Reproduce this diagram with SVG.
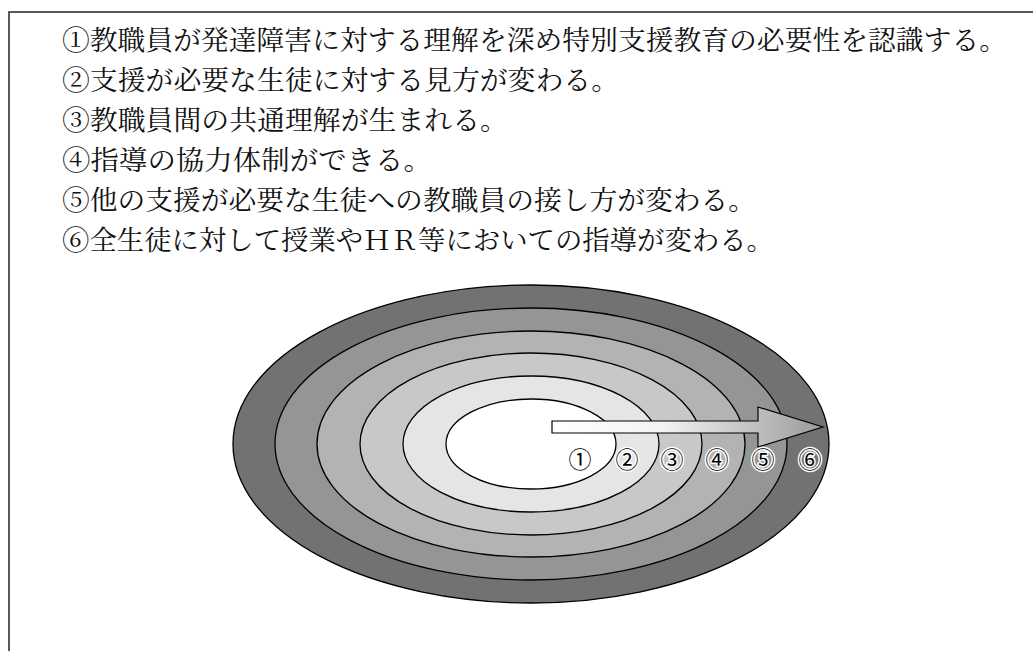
<svg xmlns="http://www.w3.org/2000/svg" width="1033" height="651" viewBox="0 0 1033 651">
<defs>
<style>
.t{font-family:"Noto Serif CJK JP","Noto Sans CJK JP",serif;font-size:27px;fill:#111}
.ring{stroke:#000;stroke-width:1.3}
.num{font-family:"Noto Sans CJK JP",sans-serif;font-size:23px;fill:#000;stroke:#fff;stroke-width:3;paint-order:stroke;stroke-linejoin:round;text-anchor:middle}
</style>
<linearGradient id="ag" x1="552" y1="0" x2="823" y2="0" gradientUnits="userSpaceOnUse">
<stop offset="0" stop-color="#ffffff"/>
<stop offset="0.4" stop-color="#f4f4f4"/>
<stop offset="1" stop-color="#9a9a9a"/>
</linearGradient>
</defs>
<rect x="0" y="0" width="1033" height="651" fill="#fff"/>
<rect x="9" y="12" width="1100" height="700" fill="none" stroke="#222" stroke-width="1.5"/>
<g id="text">
<text class="t" x="62" y="50" textLength="945" lengthAdjust="spacingAndGlyphs">①教職員が発達障害に対する理解を深め特別支援教育の必要性を認識する。</text>
<text class="t" x="62" y="90" textLength="557" lengthAdjust="spacingAndGlyphs">②支援が必要な生徒に対する見方が変わる。</text>
<text class="t" x="62" y="130" textLength="446" lengthAdjust="spacingAndGlyphs">③教職員間の共通理解が生まれる。</text>
<text class="t" x="62" y="170" textLength="370" lengthAdjust="spacingAndGlyphs">④指導の協力体制ができる。</text>
<text class="t" x="62" y="210" textLength="694" lengthAdjust="spacingAndGlyphs">⑤他の支援が必要な生徒への教職員の接し方が変わる。</text>
<text class="t" x="62" y="250" textLength="712" lengthAdjust="spacingAndGlyphs">⑥全生徒に対して授業やＨＲ等においての指導が変わる。</text>
</g>
<g id="rings">
<ellipse id="ring6" class="ring" cx="531" cy="444" rx="298" ry="159" fill="#727272"/>
<ellipse id="ring5" class="ring" cx="531" cy="444" rx="256" ry="136" fill="#949695"/>
<ellipse id="ring4" class="ring" cx="531" cy="444" rx="214" ry="113" fill="#b3b3b3"/>
<ellipse id="ring3" class="ring" cx="531" cy="444" rx="171" ry="91" fill="#c8c8c8"/>
<ellipse id="ring2" class="ring" cx="531" cy="444" rx="128" ry="68" fill="#e5e5e5"/>
<ellipse id="ring1" class="ring" cx="531" cy="444" rx="85" ry="45" fill="#ffffff"/>
</g>
<g id="connectors">
<polygon points="552,421 758,421 758,407 823,427 758,447 758,433 552,433" fill="url(#ag)" stroke="#000" stroke-width="1.2" stroke-linejoin="miter"/>
</g>
<g id="labels">
<text class="num" x="580" y="468">①</text>
<text class="num" x="627" y="468">②</text>
<text class="num" x="672" y="468">③</text>
<text class="num" x="717" y="468">④</text>
<text class="num" x="763" y="468">⑤</text>
<text class="num" x="810" y="468">⑥</text>
</g>
</svg>
